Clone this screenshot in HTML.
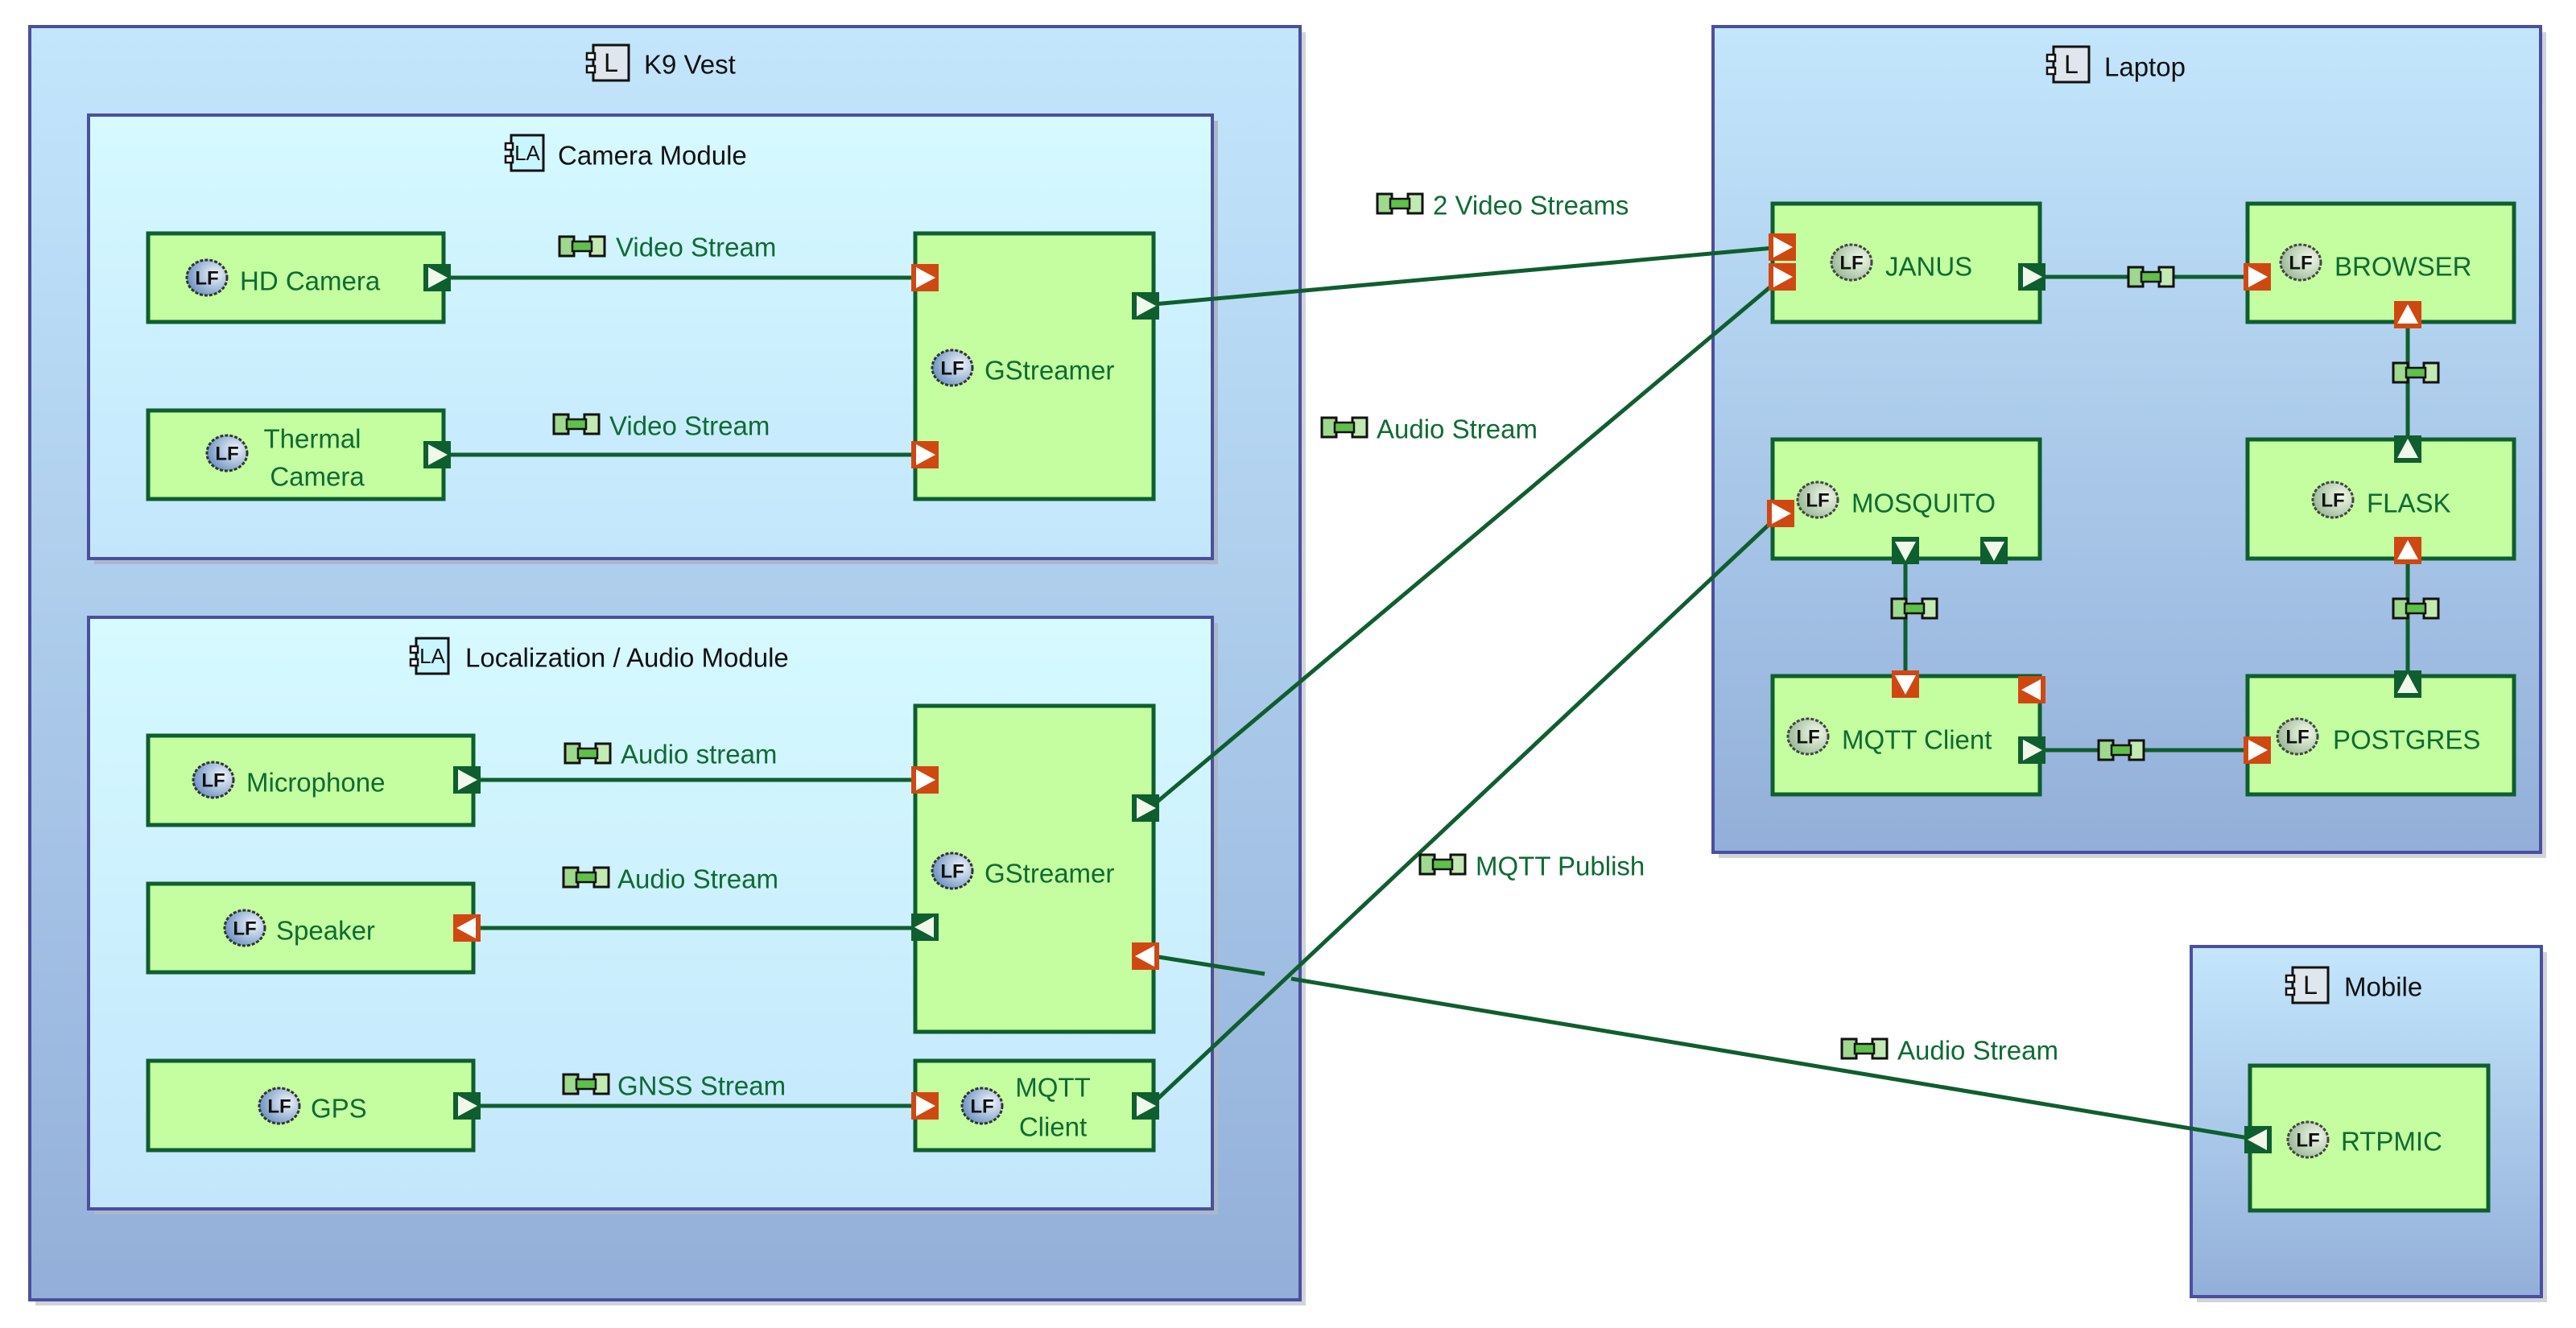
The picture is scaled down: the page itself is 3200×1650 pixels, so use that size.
<!DOCTYPE html>
<html><head><meta charset="utf-8"><style>
html,body{margin:0;padding:0;background:#fff}
svg{display:block}
text{font-family:"Liberation Sans",sans-serif;font-size:33px;dominant-baseline:central}
.g{fill:#0e6b33}
.k{fill:#111}
</style></head><body>
<svg width="3200" height="1650" viewBox="0 0 3200 1650" xmlns="http://www.w3.org/2000/svg">
<defs>
<linearGradient id="outer" x1="0" y1="0" x2="0" y2="1"><stop offset="0" stop-color="#c3e6fc"/><stop offset="1" stop-color="#93afd9"/></linearGradient>
<linearGradient id="inner" x1="0" y1="0" x2="0" y2="1"><stop offset="0" stop-color="#d6faff"/><stop offset="1" stop-color="#c3e6fc"/></linearGradient>
<radialGradient id="lfb" cx="0.7" cy="0.4" r="0.8"><stop offset="0" stop-color="#f2f6fb"/><stop offset="1" stop-color="#5b86bb"/></radialGradient>
<radialGradient id="lfg" cx="0.7" cy="0.4" r="0.8"><stop offset="0" stop-color="#f3f9ec"/><stop offset="1" stop-color="#8fb28a"/></radialGradient>
<g id="lfB"><ellipse cx="0" cy="0" rx="25" ry="22" fill="url(#lfb)" stroke="#333" stroke-width="3" stroke-dasharray="4 2"/><text x="0" y="1" text-anchor="middle" style="font-size:24px;font-weight:bold" fill="#111">LF</text></g>
<g id="lfG"><ellipse cx="0" cy="0" rx="25" ry="22" fill="url(#lfg)" stroke="#444" stroke-width="3" stroke-dasharray="4 2"/><text x="0" y="1" text-anchor="middle" style="font-size:24px;font-weight:bold" fill="#111">LF</text></g>
<g id="conn"><rect x="-28" y="-12" width="18" height="24" fill="#9fd88f" stroke="#111" stroke-width="3"/><rect x="10" y="-12" width="18" height="24" fill="#c4eab4" stroke="#111" stroke-width="3"/><rect x="-12" y="-6" width="24" height="12" fill="#5fc04a" stroke="#111" stroke-width="2.5"/></g>
<g id="pgR"><rect x="-17" y="-17" width="34" height="34" fill="#0f5e2f"/><polygon points="-11,-13 13,0 -11,13" fill="#f0f8ea"/></g>
<g id="pgL"><rect x="-17" y="-17" width="34" height="34" fill="#0f5e2f"/><polygon points="11,-13 -13,0 11,13" fill="#f0f8ea"/></g>
<g id="pgU"><rect x="-17" y="-17" width="34" height="34" fill="#0f5e2f"/><polygon points="-13,11 0,-13 13,11" fill="#f0f8ea"/></g>
<g id="pgD"><rect x="-17" y="-17" width="34" height="34" fill="#0f5e2f"/><polygon points="-13,-11 0,13 13,-11" fill="#f0f8ea"/></g>
<g id="poR"><rect x="-17" y="-17" width="34" height="34" fill="#cf4812"/><polygon points="-11,-13 13,0 -11,13" fill="#fff"/></g>
<g id="poL"><rect x="-17" y="-17" width="34" height="34" fill="#cf4812"/><polygon points="11,-13 -13,0 11,13" fill="#fff"/></g>
<g id="poU"><rect x="-17" y="-17" width="34" height="34" fill="#cf4812"/><polygon points="-13,11 0,-13 13,11" fill="#fff"/></g>
<g id="poD"><rect x="-17" y="-17" width="34" height="34" fill="#cf4812"/><polygon points="-13,-11 0,13 13,-11" fill="#fff"/></g>
<g id="icL"><rect x="-22" y="-22" width="44" height="44" fill="#dfe6ee" stroke="#111" stroke-width="3"/><rect x="-30" y="-12" width="10" height="8" fill="#fff" stroke="#111" stroke-width="2.5"/><rect x="-30" y="4" width="10" height="8" fill="#fff" stroke="#111" stroke-width="2.5"/><text x="0" y="0" text-anchor="middle" style="font-size:32px" fill="#111">L</text></g>
<g id="icLA"><rect x="-20" y="-22" width="40" height="44" fill="#c8f6ff" stroke="#111" stroke-width="3"/><rect x="-27" y="-12" width="9" height="8" fill="#fff" stroke="#111" stroke-width="2.5"/><rect x="-27" y="4" width="9" height="8" fill="#fff" stroke="#111" stroke-width="2.5"/><text x="0" y="0" text-anchor="middle" style="font-size:26px" fill="#111">LA</text></g>
</defs>

<!-- containers -->
<rect x="44" y="40" width="1578" height="1582" fill="#cfd3da"/>
<rect x="37" y="33" width="1578" height="1582" fill="url(#outer)" stroke="#4b4f9e" stroke-width="4"/>
<rect x="2135" y="40" width="1028" height="1026" fill="#cfd3da"/>
<rect x="2128" y="33" width="1028" height="1026" fill="url(#outer)" stroke="#4b4f9e" stroke-width="4"/>
<rect x="2729" y="1183" width="435" height="435" fill="#cfd3da"/>
<rect x="2722" y="1176" width="435" height="435" fill="url(#outer)" stroke="#4b4f9e" stroke-width="4"/>
<rect x="117" y="150" width="1396" height="551" fill="#aab8cc"/>
<rect x="110" y="143" width="1396" height="551" fill="url(#inner)" stroke="#4b4f9e" stroke-width="4"/>
<rect x="117" y="774" width="1396" height="735" fill="#aab8cc"/>
<rect x="110" y="767" width="1396" height="735" fill="url(#inner)" stroke="#4b4f9e" stroke-width="4"/>

<!-- titles -->
<use href="#icL" x="759" y="78"/><text x="800" y="80" class="k">K9 Vest</text>
<use href="#icLA" x="655" y="190"/><text x="693" y="193" class="k">Camera Module</text>
<use href="#icLA" x="537" y="815"/><text x="578" y="817" class="k">Localization / Audio Module</text>
<use href="#icL" x="2573" y="80"/><text x="2614" y="83" class="k">Laptop</text>
<use href="#icL" x="2870" y="1224"/><text x="2912" y="1226" class="k">Mobile</text>

<!-- components -->
<g fill="#c4fea0" stroke="#0f5e2f" stroke-width="5">
<rect x="184" y="290" width="367" height="110"/>
<rect x="184" y="510" width="367" height="110"/>
<rect x="1137" y="290" width="296" height="330"/>
<rect x="184" y="914" width="404" height="111"/>
<rect x="184" y="1098" width="404" height="110"/>
<rect x="184" y="1318" width="404" height="111"/>
<rect x="1137" y="877" width="296" height="405"/>
<rect x="1137" y="1318" width="296" height="111"/>
<rect x="2202" y="253" width="332" height="147"/>
<rect x="2792" y="253" width="331" height="147"/>
<rect x="2202" y="546" width="332" height="148"/>
<rect x="2792" y="546" width="331" height="148"/>
<rect x="2202" y="840" width="332" height="147"/>
<rect x="2792" y="840" width="331" height="147"/>
<rect x="2795" y="1324" width="296" height="180"/>
</g>

<!-- connectors -->
<g stroke="#0f5e2f" stroke-width="5" fill="none">
<line x1="551" y1="345" x2="1149" y2="345"/>
<line x1="551" y1="565" x2="1149" y2="565"/>
<line x1="588" y1="969" x2="1149" y2="969"/>
<line x1="588" y1="1153" x2="1149" y2="1153"/>
<line x1="588" y1="1374" x2="1149" y2="1374"/>
<line x1="1433" y1="378" x2="2214" y2="307"/>
<line x1="1433" y1="1000" x2="2214" y2="344"/>
<line x1="1433" y1="1370" x2="2212" y2="638"/>
<line x1="1433" y1="1188" x2="1571" y2="1210"/>
<line x1="1604" y1="1216" x2="2805" y2="1416"/>
<line x1="2524" y1="344" x2="2804" y2="344"/>
<line x1="2991" y1="391" x2="2991" y2="558"/>
<line x1="2991" y1="684" x2="2991" y2="850"/>
<line x1="2367" y1="684" x2="2367" y2="850"/>
<line x1="2524" y1="932" x2="2804" y2="932"/>
</g>

<!-- ports -->
<use href="#pgR" x="543" y="345"/>
<use href="#poR" x="1149" y="345"/>
<use href="#pgR" x="543" y="565"/>
<use href="#poR" x="1149" y="565"/>
<use href="#pgR" x="1423" y="380"/>
<use href="#pgR" x="580" y="969"/>
<use href="#poR" x="1149" y="969"/>
<use href="#poL" x="580" y="1153"/>
<use href="#pgL" x="1149" y="1152"/>
<use href="#pgR" x="1423" y="1004"/>
<use href="#poL" x="1423" y="1188"/>
<use href="#pgR" x="580" y="1374"/>
<use href="#poR" x="1149" y="1374"/>
<use href="#pgR" x="1423" y="1374"/>
<use href="#poR" x="2214" y="307"/>
<use href="#poR" x="2214" y="344"/>
<use href="#pgR" x="2524" y="344"/>
<use href="#poR" x="2804" y="344"/>
<use href="#poU" x="2991" y="391"/>
<use href="#pgU" x="2991" y="558"/>
<use href="#poU" x="2991" y="684"/>
<use href="#pgU" x="2991" y="850"/>
<use href="#poR" x="2212" y="638"/>
<use href="#pgD" x="2367" y="684"/>
<use href="#pgD" x="2477" y="684"/>
<use href="#poD" x="2367" y="850"/>
<use href="#poL" x="2524" y="857"/>
<use href="#pgR" x="2524" y="932"/>
<use href="#poR" x="2804" y="932"/>
<use href="#pgL" x="2805" y="1416"/>

<!-- connector icons -->
<use href="#conn" x="2672" y="344"/>
<use href="#conn" x="3001" y="463"/>
<use href="#conn" x="3001" y="756"/>
<use href="#conn" x="2378" y="756"/>
<use href="#conn" x="2635" y="932"/>

<!-- labels -->
<use href="#conn" x="723" y="306"/><text x="765" y="307" class="g">Video Stream</text>
<use href="#conn" x="716" y="527"/><text x="757" y="529" class="g">Video Stream</text>
<use href="#conn" x="730" y="936"/><text x="771" y="937" class="g">Audio stream</text>
<use href="#conn" x="728" y="1090"/><text x="767" y="1092" class="g">Audio Stream</text>
<use href="#conn" x="728" y="1347"/><text x="767" y="1349" class="g">GNSS Stream</text>
<use href="#conn" x="1739" y="253"/><text x="1780" y="255" class="g">2 Video Streams</text>
<use href="#conn" x="1670" y="531"/><text x="1710" y="533" class="g">Audio Stream</text>
<use href="#conn" x="1792" y="1074"/><text x="1833" y="1076" class="g">MQTT Publish</text>
<use href="#conn" x="2316" y="1303"/><text x="2357" y="1305" class="g">Audio Stream</text>

<!-- component labels -->
<use href="#lfB" x="257" y="345"/><text x="298" y="349" class="g">HD Camera</text>
<use href="#lfB" x="282" y="563"/><text x="388" y="545" class="g" text-anchor="middle">Thermal</text><text x="394" y="592" class="g" text-anchor="middle">Camera</text>
<use href="#lfB" x="1183" y="457"/><text x="1223" y="460" class="g">GStreamer</text>
<use href="#lfB" x="265" y="969"/><text x="306" y="972" class="g">Microphone</text>
<use href="#lfB" x="304" y="1153"/><text x="343" y="1156" class="g">Speaker</text>
<use href="#lfB" x="347" y="1374"/><text x="386" y="1377" class="g">GPS</text>
<use href="#lfB" x="1183" y="1082"/><text x="1223" y="1085" class="g">GStreamer</text>
<use href="#lfB" x="1220" y="1374"/><text x="1308" y="1351" class="g" text-anchor="middle">MQTT</text><text x="1308" y="1400" class="g" text-anchor="middle">Client</text>
<use href="#lfG" x="2300" y="326"/><text x="2342" y="331" class="g">JANUS</text>
<use href="#lfG" x="2858" y="326"/><text x="2900" y="331" class="g">BROWSER</text>
<use href="#lfG" x="2258" y="621"/><text x="2300" y="625" class="g">MOSQUITO</text>
<use href="#lfG" x="2898" y="621"/><text x="2940" y="625" class="g">FLASK</text>
<use href="#lfG" x="2246" y="915"/><text x="2288" y="919" class="g">MQTT Client</text>
<use href="#lfG" x="2854" y="915"/><text x="2898" y="919" class="g">POSTGRES</text>
<use href="#lfG" x="2867" y="1416"/><text x="2908" y="1418" class="g">RTPMIC</text>
</svg>
</body></html>
